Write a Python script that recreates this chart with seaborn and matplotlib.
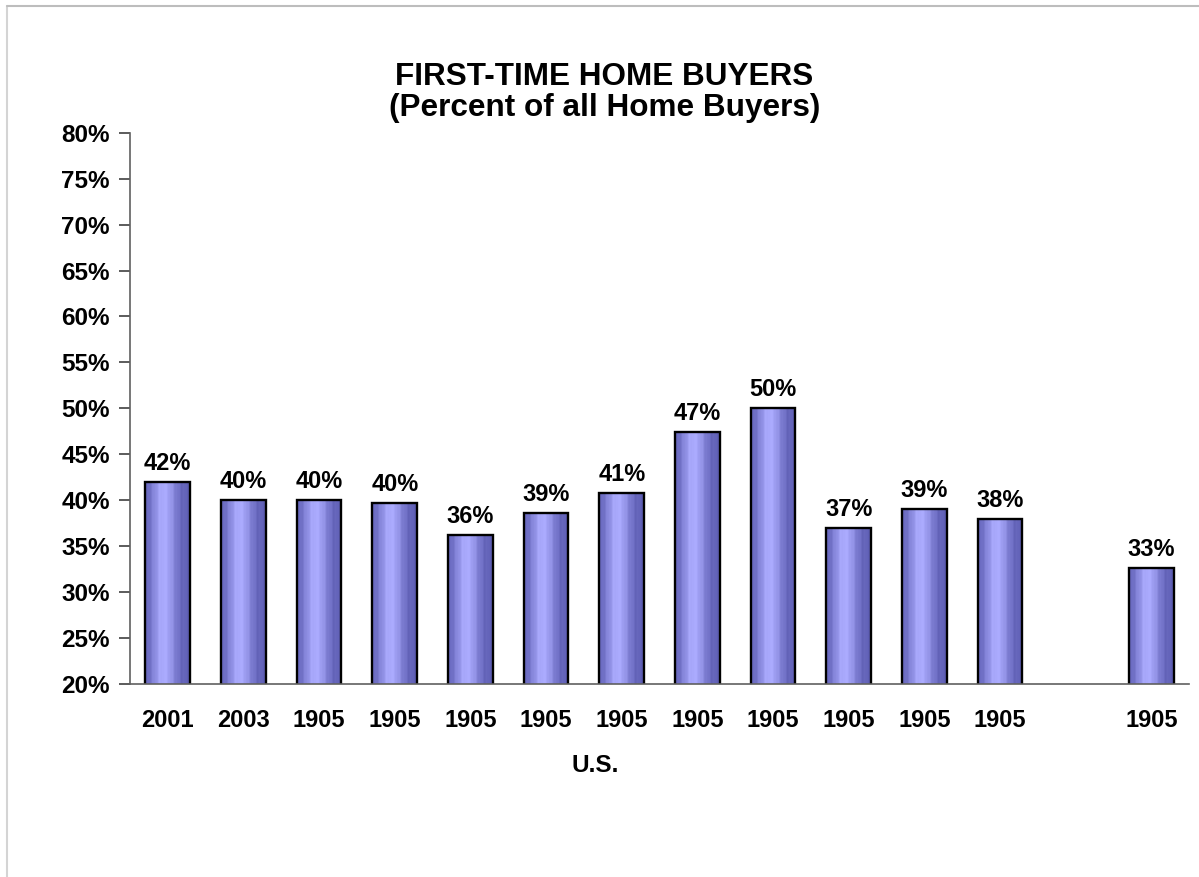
import numpy as np
import pandas as pd
import matplotlib.pyplot as plt
import seaborn as sns
from matplotlib.lines import Line2D

sns.set_style("white")
plt.rcParams['font.family'] = ['Liberation Sans', 'DejaVu Sans']
plt.rcParams['font.weight'] = 'bold'
plt.rcParams['text.color'] = 'black'
plt.rcParams['xtick.color'] = 'black'
plt.rcParams['ytick.color'] = 'black'

# Data (slot 13 is empty in the original)
year_labels = ["2001", "2003", "1905", "1905", "1905", "1905", "1905",
               "1905", "1905", "1905", "1905", "1905", "", "1905"]
pct_values = [42.0, 40.0, 40.0, 39.75, 36.2, 38.6, 40.8,
              47.4, 50.0, 37.0, 39.0, 38.0, np.nan, 32.6]
y_ticks = list(range(20, 81, 5))

df = pd.DataFrame({"slot": range(len(pct_values)), "pct": pct_values})

fig = plt.figure(figsize=(11.99, 8.77), dpi=100)
ax = fig.add_axes([0.1084, 0.2201, 0.9919 - 0.1084, 0.8487 - 0.2201])

sns.barplot(data=df, x="slot", y="pct", order=list(range(len(pct_values))),
            width=0.59, color="#8888dd", edgecolor="black", linewidth=1.7,
            ax=ax, errorbar=None)

ax.set_xlim(-0.5, len(pct_values) - 0.5)
ax.set_ylim(20, 80)
y_floor = ax.get_ylim()[0]

# striped lavender gradient inside each bar
n = 60
t = np.linspace(0, 1, n)
light = np.exp(-((t - 0.42) / 0.28) ** 2)
stripes = 0.06 * np.sin(t * 2 * np.pi * 7) + 0.04 * np.sin(t * 2 * np.pi * 13 + 1.0)
level = np.clip(light + stripes, 0, 1)
dark = np.array([0x5e, 0x5e, 0xb4]) / 255
bright = np.array([0xac, 0xac, 0xff]) / 255
grad = dark[None, :] + level[:, None] * (bright - dark)[None, :]
grad = grad[None, :, :]

for patch in ax.patches:
    x0, y0 = patch.get_x(), patch.get_y()
    w, h = patch.get_width(), patch.get_height()
    if np.isnan(h) or h == 0:
        continue
    im = ax.imshow(grad, extent=[x0, x0 + w, max(y0, y_floor), y0 + h], aspect="auto",
                   interpolation="bilinear", zorder=patch.get_zorder())
    im.set_clip_path(patch)
    patch.set_facecolor("none")
    patch.set_zorder(patch.get_zorder() + 0.5)

ax.set_xlim(-0.5, len(pct_values) - 0.5)
ax.set_ylim(20, 80)

ax.bar_label(ax.containers[0], fmt=lambda v: f"{v:.0f}%", padding=5,
             fontsize=17, fontweight="bold", color="black")

ax.set_yticks(y_ticks)
ax.set_yticklabels([f"{v}%" for v in y_ticks], fontsize=17.5, fontweight="bold")
ax.set_xticks(range(len(year_labels)))
ax.set_xticklabels(year_labels, fontsize=17, fontweight="bold")
ax.set_xticks(np.arange(-0.5, len(year_labels)), minor=True)
ax.tick_params(axis="x", which="major", length=0, pad=18)
ax.tick_params(axis="x", which="minor", length=8, width=1.2, color="#404040", direction="out")
ax.tick_params(axis="y", length=8, width=1.2, color="#404040", direction="out", pad=6.5, left=True)
ax.set_xlabel("")
ax.set_ylabel("")

sns.despine(ax=ax)
for side in ["left", "bottom"]:
    ax.spines[side].set_color("#606060")
    ax.spines[side].set_linewidth(1.2)

fig.text(0.504, 1 - 77 / 877, "FIRST-TIME HOME BUYERS", ha="center", va="center",
         fontsize=22.7, fontweight="bold")
fig.text(0.504, 1 - 108 / 877, "(Percent of all Home Buyers)", ha="center", va="center",
         fontsize=22.7, fontweight="bold")
fig.text(595 / 1199, 1 - 765 / 877, "U.S.", ha="center", va="center",
         fontsize=17.5, fontweight="bold")

# light frame at top and left edge
fig.add_artist(Line2D([7 / 1199, 7 / 1199], [0, 1 - 6 / 877], transform=fig.transFigure,
                      color="#d4d4d4", linewidth=1.5))
fig.add_artist(Line2D([7 / 1199, 1], [1 - 6 / 877, 1 - 6 / 877], transform=fig.transFigure,
                      color="#bdbdbd", linewidth=1.5))

fig.savefig("out.png", dpi=100)
